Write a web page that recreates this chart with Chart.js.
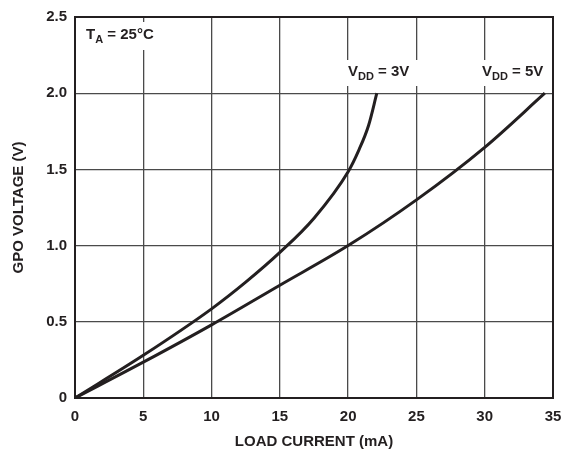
<!DOCTYPE html>
<html lang="en">
<head>
<meta charset="UTF-8">
<title>GPO Voltage vs Load Current</title>
<script src="https://cdn.jsdelivr.net/npm/chart.js@4.4.1/dist/chart.umd.min.js"></script>
<style>
  html, body { margin: 0; padding: 0; background: #fff; }
  #wrap { width: 572px; height: 457px; }
</style>
</head>
<body>
<div id="wrap"><canvas id="gpo-chart" width="572" height="457"></canvas></div>
<script>
// GPO output voltage against load current, T_A = 25°C
const loadCurrent3V = [0, 5, 10, 12.5, 15, 17.5, 20, 20.8, 21.5, 22.1];
const gpoVoltage3V  = [0, 0.28, 0.585, 0.76, 0.955, 1.18, 1.485, 1.63, 1.79, 2.0];

const loadCurrent5V = [0, 5, 10, 15, 20, 25, 30, 34.4];
const gpoVoltage5V  = [0, 0.235, 0.48, 0.74, 1.0, 1.3, 1.645, 2.0];

const xTickLabels = ['0', '5', '10', '15', '20', '25', '30', '35'];
const yTickLabels = ['0', '0.5', '1.0', '1.5', '2.0', '2.5'];

const FONT = '"Liberation Sans", Arial, Helvetica, sans-serif';
const INK = '#231f20';

function toPoints(xs, ys) {
    return xs.map((x, i) => ({ x: x, y: ys[i] }));
}

// text with a subscript, e.g. T + A + " = 25°C"
function drawSubText(ctx, x, y, main, sub, rest) {
    ctx.font = 'bold 15px ' + FONT;
    ctx.fillText(main, x, y);
    x += ctx.measureText(main).width;
    ctx.font = 'bold 11px ' + FONT;
    ctx.fillText(sub, x, y + 4);
    x += ctx.measureText(sub).width;
    ctx.font = 'bold 15px ' + FONT;
    ctx.fillText(rest, x, y);
}

const framePlugin = {
    id: 'frame',
    beforeDatasetsDraw(chart) {
        const { ctx, chartArea: a } = chart;
        ctx.save();
        ctx.strokeStyle = INK;
        ctx.lineWidth = 2;
        ctx.strokeRect(a.left, a.top, a.right - a.left, a.bottom - a.top);
        ctx.restore();
    },
    afterDraw(chart) {
        const { ctx, chartArea: a } = chart;
        ctx.save();
        // label boxes knock out the grid behind them
        ctx.fillStyle = '#fff';
        ctx.fillRect(80, 22, 86, 28);
        ctx.fillRect(342, 60, 80, 26);
        ctx.fillRect(476, 60, 75, 26);

        ctx.fillStyle = INK;
        ctx.textBaseline = 'alphabetic';
        ctx.textAlign = 'left';
        drawSubText(ctx, 86, 39, 'T', 'A', ' = 25°C');
        drawSubText(ctx, 348, 76, 'V', 'DD', ' = 3V');
        drawSubText(ctx, 482, 76, 'V', 'DD', ' = 5V');

        // axis titles
        ctx.font = 'bold 15px ' + FONT;
        ctx.textAlign = 'center';
        ctx.textBaseline = 'middle';
        ctx.fillText('LOAD CURRENT (mA)', (a.left + a.right) / 2, 442);
        ctx.translate(19, (a.top + a.bottom) / 2);
        ctx.rotate(-Math.PI / 2);
        ctx.fillText('GPO VOLTAGE (V)', 0, 0);
        ctx.restore();
    }
};

const ctx = document.getElementById('gpo-chart').getContext('2d');
new Chart(ctx, {
    type: 'scatter',
    data: {
        datasets: [{
            label: 'VDD = 3V',
            data: toPoints(loadCurrent3V, gpoVoltage3V),
            showLine: true,
            borderColor: INK,
            borderWidth: 3,
            pointRadius: 0,
            cubicInterpolationMode: 'monotone'
        }, {
            label: 'VDD = 5V',
            data: toPoints(loadCurrent5V, gpoVoltage5V),
            showLine: true,
            borderColor: INK,
            borderWidth: 3,
            pointRadius: 0,
            cubicInterpolationMode: 'monotone'
        }]
    },
    options: {
        responsive: false,
        animation: false,
        events: [],
        layout: { padding: { left: 0, right: 19, top: 15, bottom: 0 } },
        plugins: {
            legend: { display: false },
            tooltip: { enabled: false }
        },
        scales: {
            x: {
                type: 'linear',
                min: 0,
                max: 35,
                afterFit(scale) { scale.height = 59; },
                grid: { color: '#4a4a4a', lineWidth: 1.3, drawTicks: false },
                border: { display: false },
                ticks: {
                    stepSize: 5,
                    padding: 10,
                    color: INK,
                    font: { family: FONT, size: 15, weight: 'bold' },
                    callback: (v) => xTickLabels[Math.round(v / 5)]
                }
            },
            y: {
                type: 'linear',
                min: 0,
                max: 2.5,
                afterFit(scale) { scale.width = 75; },
                grid: { color: '#4a4a4a', lineWidth: 1.3, drawTicks: false },
                border: { display: false },
                ticks: {
                    stepSize: 0.5,
                    padding: 8,
                    color: INK,
                    font: { family: FONT, size: 15, weight: 'bold' },
                    callback: (v) => yTickLabels[Math.round(v / 0.5)]
                }
            }
        }
    },
    plugins: [framePlugin]
});
</script>
</body>
</html>
